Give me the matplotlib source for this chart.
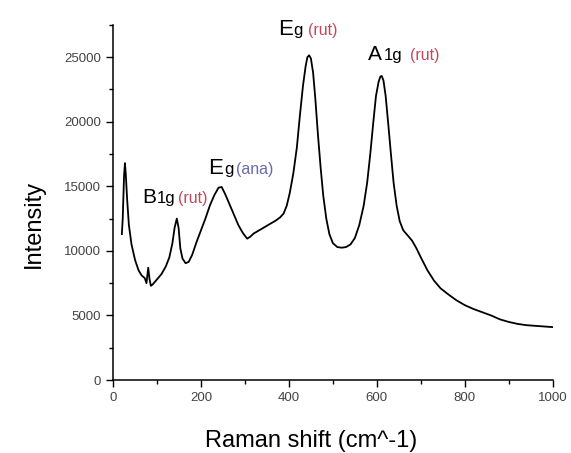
import matplotlib
matplotlib.use("Agg")
import matplotlib.pyplot as plt
from matplotlib.ticker import MultipleLocator

plt.rcParams['font.family'] = ['Liberation Sans', 'DejaVu Sans']

# Espectro Raman
shift = [20, 22, 25, 27, 29, 32, 36, 42, 50, 58, 65, 72, 76, 80, 83, 86, 90,
         100, 110, 120, 128, 135, 140, 145, 149, 153, 158, 165, 172, 180, 190,
         200, 210, 220, 230, 240, 247, 255, 265, 275, 285, 295, 305, 312, 320,
         330, 340, 350, 360, 370, 380, 388, 395, 402, 410, 418, 425, 432, 438,
         442, 446, 450, 455, 460, 466, 472, 478, 485, 492, 500, 510, 520, 530,
         540, 550, 560, 570, 578, 585, 592, 598, 604, 608, 611, 615, 620, 626,
         632, 638, 645, 652, 660, 670, 680, 690, 700, 715, 730, 745, 760, 780,
         800, 820, 840, 860, 880, 900, 920, 940, 960, 980, 1000]
intensity = [11300, 12500, 15800, 16800, 15900, 14000, 12000, 10500, 9300, 8500,
             8100, 7900, 7500, 8700, 7800, 7300, 7400, 7800, 8200, 8800, 9500,
             10600, 11800, 12500, 11800, 10200, 9400, 9050, 9150, 9700, 10700,
             11600, 12500, 13500, 14300, 14900, 14950, 14400, 13600, 12800, 12000,
             11400, 10950, 11100, 11350, 11550, 11750, 11950, 12150, 12350, 12600,
             12900, 13500, 14500, 16000, 18000, 20500, 22800, 24300, 25000, 25150,
             24900, 23800, 21800, 19000, 16500, 14300, 12500, 11300, 10600, 10300,
             10250, 10300, 10500, 11000, 12000, 13500, 15300, 17500, 20000, 22000,
             23100, 23500, 23550, 23200, 22000, 19800, 17500, 15300, 13500, 12300,
             11600, 11200, 10800, 10200, 9500, 8500, 7700, 7100, 6700, 6200, 5800,
             5500, 5250, 5000, 4700, 4500, 4350, 4250, 4200, 4150, 4100]

# Etiquetas de los modos: (letra, subindice, fase, x, y)
modes = [
    ("B", "1g", "(rut)", 66, 13700),
    ("E", "g", "(ana)", 216, 15940),
    ("E", "g", "(rut)", 375, 26700),
    ("A", "1g", "(rut)", 579, 24770),
]
letter_sizes = [15, 16, 16, 15]
sub_offsets = [10.8, 12.0, 10.8, 11.5]
phase_offsets = [25.9, 20.5, 21.6, 30.5]
phase_colors = {"(rut)": "#c2485a", "(ana)": "#6a6aae"}

fig = plt.figure(figsize=(5.71, 4.53), dpi=100)
ax = fig.add_axes([0.198, 0.161, 0.770, 0.784])

ax.plot(shift, intensity, color='black', linewidth=1.3)

ax.set_xlim(0, 1000)
ax.set_ylim(0, 27500)
ax.xaxis.set_major_locator(MultipleLocator(200))
ax.xaxis.set_minor_locator(MultipleLocator(100))
ax.yaxis.set_major_locator(MultipleLocator(5000))
ax.yaxis.set_minor_locator(MultipleLocator(2500))
ax.tick_params(which='major', direction='out', length=5, width=1,
               labelsize=9.5, labelcolor='#444444')
ax.tick_params(which='minor', direction='out', length=3, width=1)

for side in ['top', 'right']:
    ax.spines[side].set_visible(False)
for side in ['left', 'bottom']:
    ax.spines[side].set_linewidth(1.1)

ax.set_xlabel('Raman shift (cm^-1)', fontsize=17)
ax.set_ylabel('Intensity', fontsize=17)
ax.xaxis.set_label_coords(0.45, -0.14)
ax.yaxis.set_label_coords(-0.155, 0.44)

for i, (letter, sub, phase, x, y) in enumerate(modes):
    ax.annotate(letter, (x, y), fontsize=letter_sizes[i], ha='left',
                va='baseline', annotation_clip=False)
    ax.annotate(sub, (x, y), xytext=(sub_offsets[i], 0),
                textcoords='offset points', fontsize=12, ha='left',
                va='baseline', annotation_clip=False)
    ax.annotate(phase, (x, y), xytext=(phase_offsets[i], 0),
                textcoords='offset points', fontsize=11.5, ha='left',
                va='baseline', color=phase_colors[phase],
                annotation_clip=False)

plt.savefig('out.png', dpi=100)
